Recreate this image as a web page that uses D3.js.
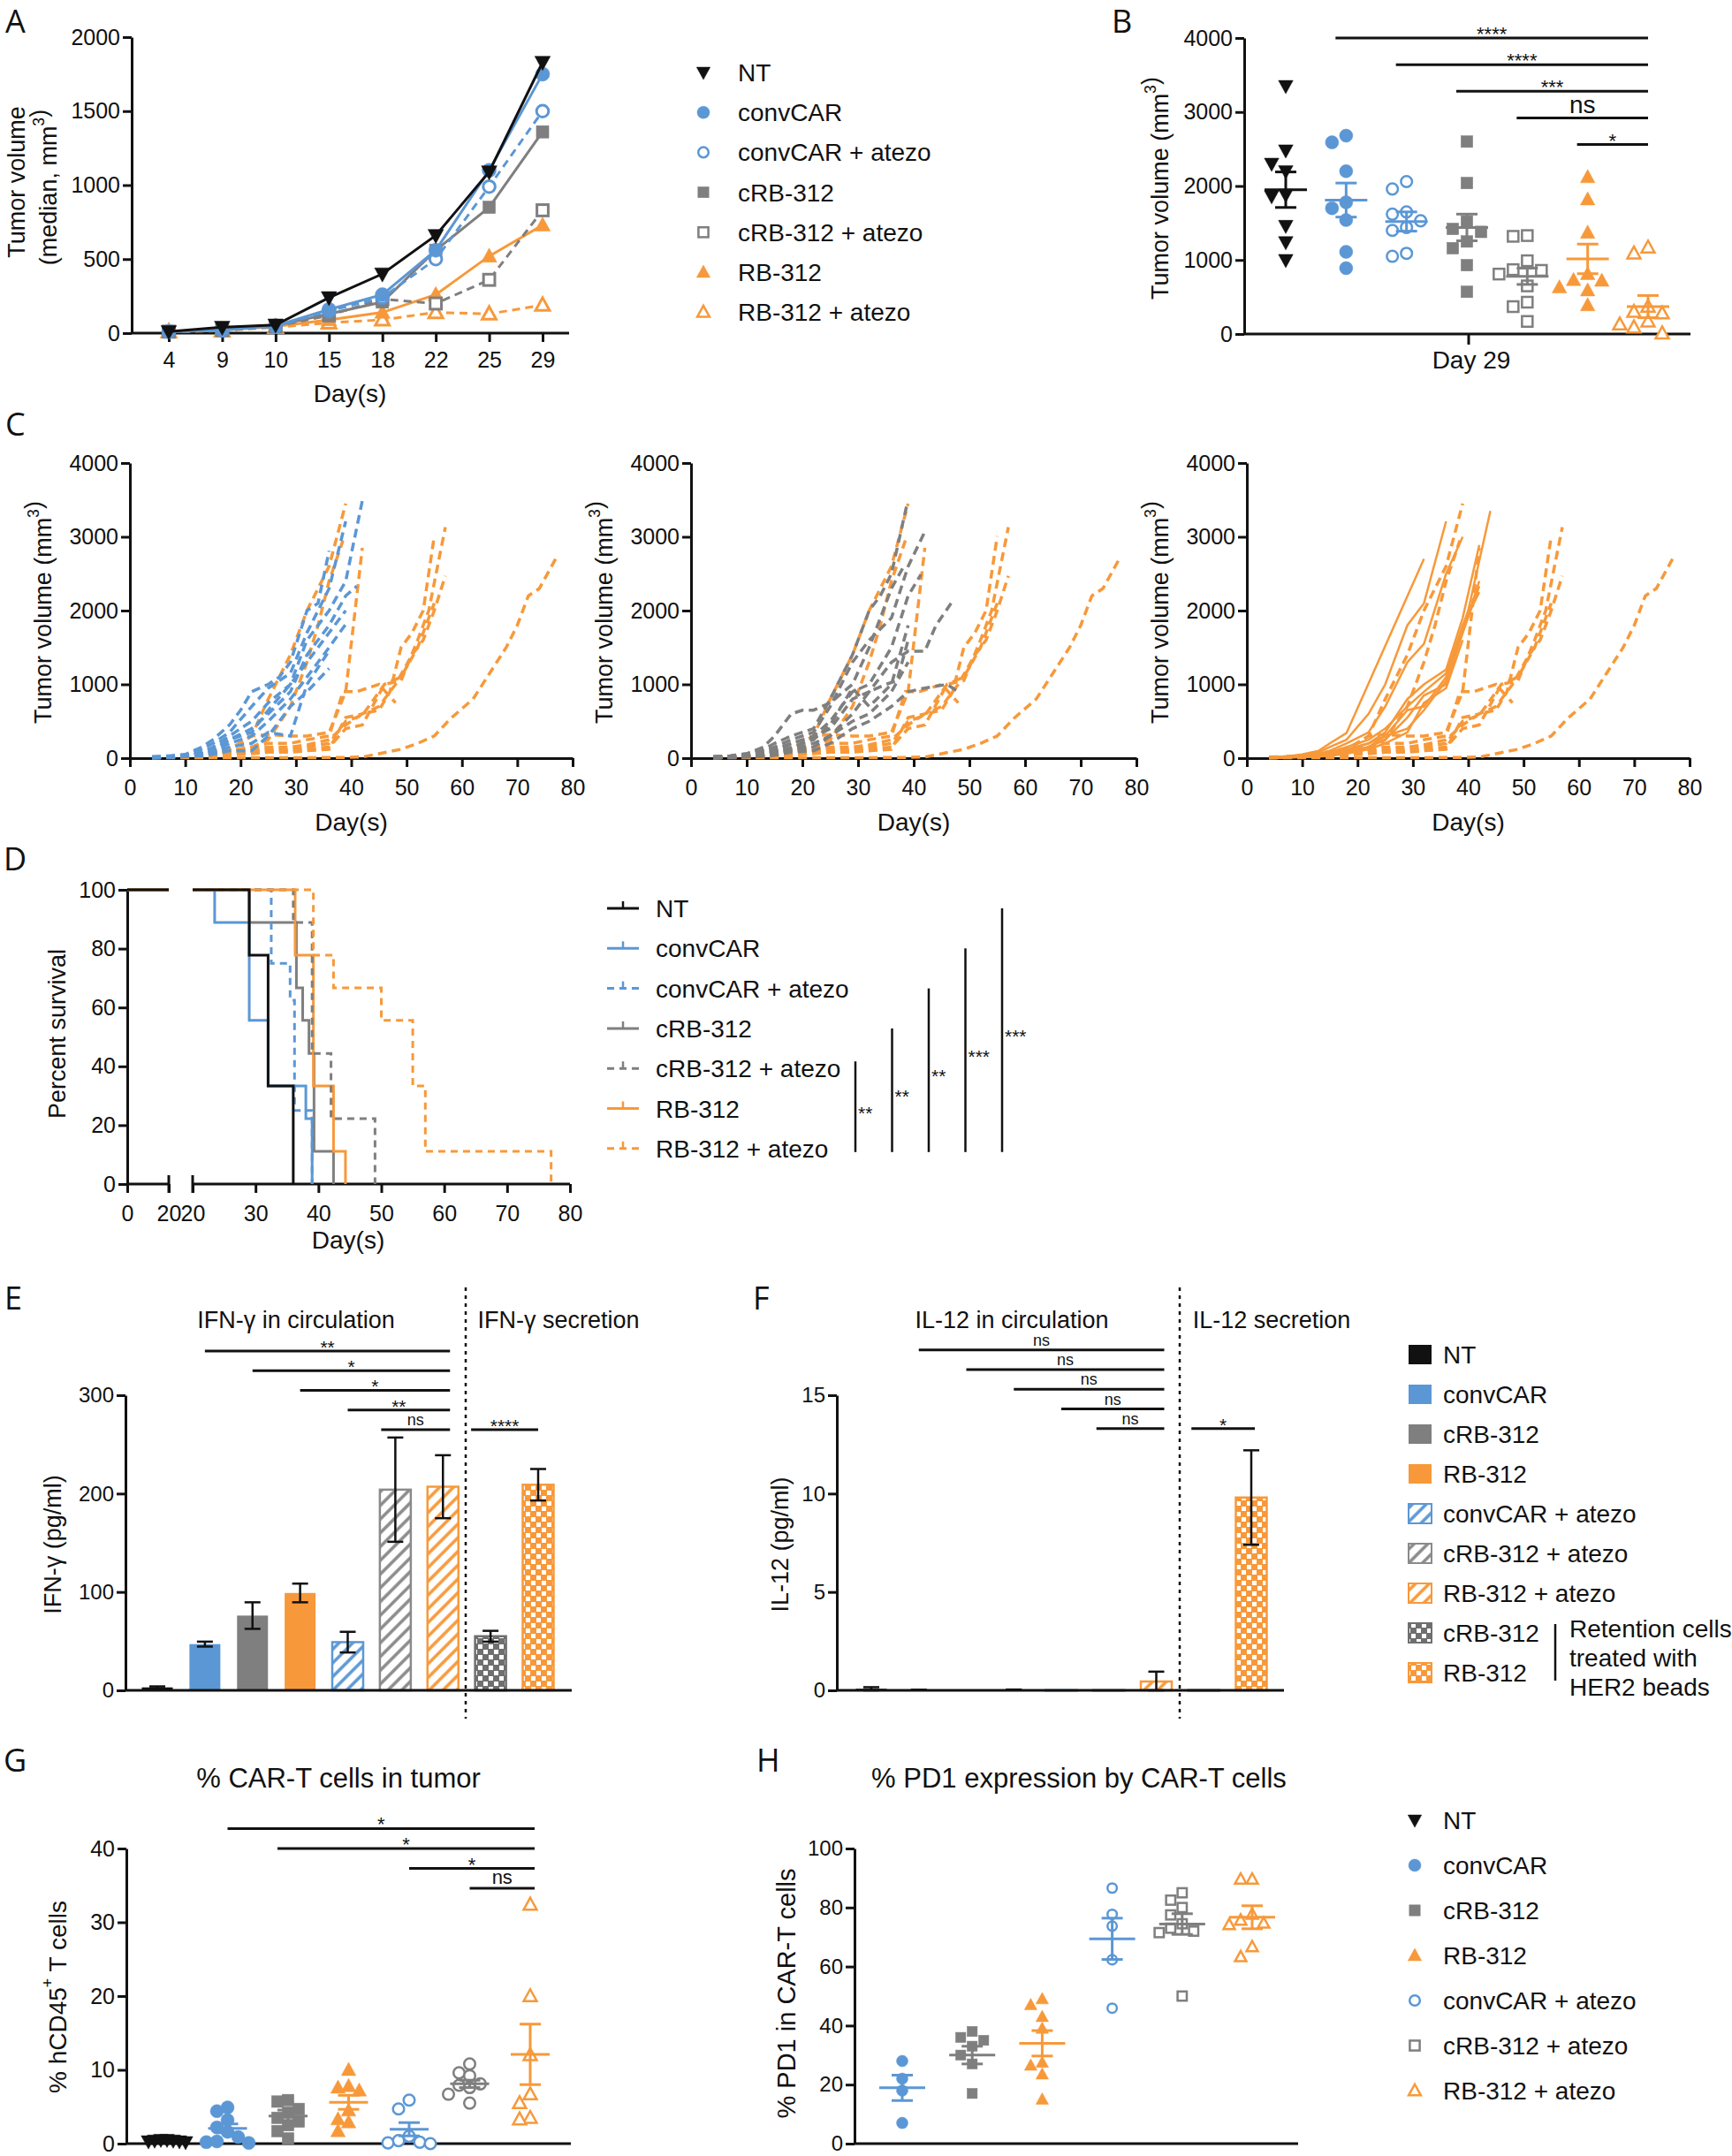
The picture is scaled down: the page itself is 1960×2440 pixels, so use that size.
<!DOCTYPE html>
<html><head><meta charset="utf-8">
<script src="https://cdn.jsdelivr.net/npm/d3@7"></script>
<style>body{margin:0;background:#fff} svg{display:block} text{font-family:"Liberation Sans",Arial,Helvetica,sans-serif;fill:#111}</style>
</head><body>
<svg id="fig" width="1960" height="2440"></svg>
<script>
// ================= DATA =================
// Panel A: median tumor volume
const aDays = ["4","9","10","15","18","22","25","29"];
const aNT = [10,40,55,240,400,660,1090,1830];
const aConv = [10,20,50,160,260,560,1100,1750];
const aConvAtezo = [10,20,45,150,240,500,990,1500];
const aCrb = [10,25,50,130,210,560,850,1360];
const aCrbAtezo = [10,20,45,120,230,200,360,830];
const aRb = [10,20,45,90,140,260,520,730];
const aRbAtezo = [10,15,40,70,90,140,130,190];
const groupNames = ["NT","convCAR","convCAR + atezo","cRB-312","cRB-312 + atezo","RB-312","RB-312 + atezo"];

// Panel B: day 29 individual volumes
const bNT = [3350,2480,2300,2200,1880,1860,1460,1240,1000];
const bConv = [2680,2590,2200,1780,1700,1540,1110,890];
const bConvAtezo = [2060,1960,1650,1620,1530,1440,1400,1090,1050];
const bCrb = [2600,2040,1520,1420,1380,1250,1160,930,570];
const bCrbAtezo = [1330,1320,990,870,860,810,650,430,370,170];
const bRb = [2120,1820,1370,810,730,720,630,590,390];
const bRbAtezo = [1170,1090,370,300,280,170,130,90,10];
const bMean = [1950,1810,1520,1440,780,1015,370];
const bSem = [240,230,130,180,110,200,150];
const bSigFrom = ["convCAR","convCAR + atezo","cRB-312","cRB-312 + atezo","RB-312"];
const bSigLabels = ["****","****","***","ns","*"];

// Panel C: individual growth curves [day, volume]
const cConvAtezoMice = [
 [[4,20],[7,30],[10,50],[13,150],[15,250],[18,450],[20,650],[22,900],[25,1000],[27,1100],[29,1300],[32,2000],[34,2100],[36,2810]],
 [[4,15],[7,25],[10,40],[13,120],[15,200],[18,350],[22,700],[25,950],[29,1150],[32,1700],[36,2300],[39,3210]],
 [[4,10],[7,20],[10,30],[13,80],[15,150],[18,300],[22,500],[25,750],[29,1000],[32,1600],[34,1800],[36,2000],[39,2400],[42,3490]],
 [[4,10],[7,20],[10,30],[13,60],[15,100],[18,250],[22,400],[25,600],[29,900],[32,1400],[36,1800],[39,2200],[41,2330]],
 [[4,10],[7,15],[10,25],[13,50],[15,80],[18,200],[22,300],[25,500],[29,800],[32,1100],[36,1500],[39,1815]],
 [[4,10],[7,15],[10,20],[13,40],[15,60],[18,150],[22,200],[25,350],[29,300],[32,1000],[36,1455]],
 [[4,10],[7,10],[10,20],[13,30],[15,50],[18,100],[22,100],[25,300],[29,700],[32,900],[36,1216]],
 [[4,10],[7,15],[10,25],[13,60],[15,120],[18,250],[22,350],[25,650],[29,1000],[32,1300],[36,1700],[39,2000]]
];
const cCrbAtezoMice = [
 [[4,20],[7,30],[10,60],[13,120],[15,200],[18,300],[22,400],[25,800],[29,1400],[32,2000],[34,2200],[36,2500],[38.7,3410]],
 [[4,20],[7,30],[10,60],[13,150],[15,300],[18,600],[20,650],[22,650],[25,750],[29,1000],[32,1500],[36,2300],[38,2570]],
 [[4,15],[7,25],[10,50],[13,100],[15,150],[18,250],[22,350],[25,700],[29,1300],[32,1600],[36,1900],[39,2600],[42,3070]],
 [[4,15],[7,20],[10,40],[13,80],[15,120],[18,200],[22,300],[25,500],[29,900],[32,1000],[36,1500],[39,2200],[41.3,2490]],
 [[4,10],[7,20],[10,30],[13,60],[15,100],[18,200],[22,280],[25,400],[29,800],[32,900],[36,1300],[39,1450],[42,1450],[44,1800],[47,2130]],
 [[4,10],[7,15],[10,25],[13,50],[15,80],[18,150],[22,250],[25,450],[29,950],[32,700],[36,1000],[39,1800]],
 [[4,10],[7,15],[10,25],[13,40],[15,70],[18,120],[22,200],[25,300],[29,600],[32,900],[35,1000],[37,1050],[39,1600]],
 [[4,10],[7,10],[10,20],[13,30],[15,60],[18,100],[22,150],[25,300],[29,500],[32,600],[36,900],[39,1300]],
 [[4,5],[7,10],[10,15],[13,25],[15,40],[18,80],[22,100],[25,200],[29,400],[32,500],[36,700],[39,900],[42,950],[46,1000],[48,900]]
];
const cRbMice = [
 [[4,10],[7,20],[10,50],[13,100],[15,200],[18,340],[32,2700]],
 [[4,10],[7,20],[10,40],[13,80],[15,150],[18,250],[22,600],[25,1000],[29,1800],[32,2100],[36,3210]],
 [[4,10],[7,15],[10,30],[13,60],[15,100],[18,200],[22,350],[25,700],[29,1300],[32,1550],[36,2500],[39,3000]],
 [[4,10],[7,15],[10,30],[13,50],[15,80],[18,150],[22,250],[25,400],[29,700],[32,900],[36,1150],[40,2000],[44,3350]],
 [[4,10],[7,15],[10,25],[13,40],[15,70],[18,120],[22,200],[25,350],[29,800],[32,1000],[36,1200],[39,1900],[42,2890]],
 [[4,10],[7,10],[10,20],[13,30],[15,60],[18,100],[22,200],[25,300],[29,650],[32,700],[36,1100],[39,1700],[42,2330]],
 [[4,5],[7,10],[10,20],[13,30],[15,50],[18,100],[22,150],[25,300],[29,400],[32,650],[36,1050],[39,1800],[42,2250]],
 [[4,5],[7,10],[10,15],[13,25],[15,40],[18,80],[22,150],[25,250],[29,550],[32,850],[36,1000],[39,1700],[42,2400]],
 [[4,5],[7,10],[10,15],[13,20],[15,30],[18,60],[22,120],[25,200],[29,350],[32,750],[36,950],[39,1600]]
];
const cRbAtezoMice = [
 [[4,15],[7,20],[10,40],[13,60],[15,90],[18,130],[20,200],[22,300],[25,800],[29,1400],[32,2000],[36,2600],[39,3450]],
 [[4,10],[7,15],[10,30],[13,50],[15,70],[18,100],[22,150],[25,250],[29,700],[32,1300],[34,1800],[36,2400],[38.5,2950]],
 [[4,10],[7,15],[10,25],[13,40],[15,60],[18,120],[22,300],[25,320],[29,300],[32,300],[36,350],[39,900],[42,2850]],
 [[4,10],[7,15],[10,20],[13,35],[15,50],[18,100],[22,150],[25,200],[29,200],[32,250],[36,300],[38.5,900],[41,900],[45,1000],[48,750]],
 [[4,10],[7,10],[10,20],[13,30],[15,40],[18,80],[22,120],[25,150],[29,150],[32,180],[36,250],[39,450],[42,600],[45,650],[47,900],[49,1500],[51,1700],[53,2000],[55,3010]],
 [[4,5],[7,10],[10,15],[13,25],[15,30],[18,60],[22,100],[25,120],[29,120],[32,150],[36,200],[39,500],[42,580],[46,1000],[49,1100],[52,1500],[55,2100]],
 [[4,5],[7,10],[10,15],[13,20],[15,30],[18,50],[22,80],[25,100],[29,100],[32,120],[36,150],[39,400],[42,450],[46,1000],[49,1050],[52,1600],[54,2000],[57,3130]],
 [[4,5],[7,8],[10,10],[13,15],[15,20],[18,40],[22,60],[25,80],[29,80],[32,100],[36,120],[39,550],[42,600],[45,700],[48,1000],[51,1400],[53,1600],[55,2000],[57,2470]],
 [[4,5],[7,5],[10,5],[13,5],[15,5],[18,5],[22,5],[25,5],[29,5],[32,5],[36,10],[39,10],[42,15],[45,60],[49,120],[52,200],[55,300],[58,540],[62,800],[65,1150],[68,1500],[70,1800],[72,2200],[74,2300],[77,2710]]
];

// Panel D: survival [day, percent]
const dNT = [[0,100],[29,77.8],[32,33.3],[36,0]];
const dConv = [[0,100],[23.5,88.9],[29,55.6],[32,33.3],[38,22.2],[39,0]];
const dConvAtezo = [[0,100],[32.5,75],[35.5,62.5],[36.2,25],[39,0]];
const dCrb = [[0,100],[29,88.9],[36.5,66.7],[37.5,55.6],[38.5,44.4],[39.3,11.1],[42.4,0]];
const dCrbAtezo = [[0,100],[36,88.9],[39,44.4],[42,22.2],[49,0]];
const dRb = [[0,100],[36.3,77.8],[39.2,33.3],[42.4,11.1],[44.3,0]];
const dRbAtezo = [[0,100],[39.2,77.8],[42.4,66.7],[50,55.6],[55,33.3],[57,11.1],[77,0]];
const dSigLabels = ["**","**","**","***","***"];

// Panel E / F: cytokines
const eCats = ["NT","convCAR","cRB-312","RB-312","convCAR + atezo","cRB-312 + atezo","RB-312 + atezo","cRB-312 beads","RB-312 beads"];
const eMean = [3,47,76,99,49,204,207,55,209];
const eSem = [1,2.5,13.5,9.5,10.5,53,32,5.5,16];
const eSigFrom = ["convCAR","cRB-312","RB-312","convCAR + atezo","cRB-312 + atezo"];
const eSigLabels = ["**","*","*","**","ns"];
const eBeadSig = "****";
const fMean = [0.08,0.02,0.01,0.03,0.01,0.01,0.45,0.01,9.8];
const fSem = [0.08,0.01,0,0.01,0,0,0.5,0,2.4];
const fSigLabels = ["ns","ns","ns","ns","ns"];
const fBeadSig = "*";
const efLegend = ["NT","convCAR","cRB-312","RB-312","convCAR + atezo","cRB-312 + atezo","RB-312 + atezo","cRB-312","RB-312"];
const retentionNote = ["Retention cells","treated with","HER2 beads"];

// Panel G: % CAR-T in tumor
const gCats = ["NT","convCAR","cRB-312","RB-312","convCAR + atezo","cRB-312 + atezo","RB-312 + atezo"];
const gNT = [0.5,0.4,0.3,0.4,0.3,0.5,0.2];
const gConv = [4.9,4.4,3.2,2.2,1.6,0.9,0.3,0.2,0.1];
const gCrb = [5.9,5.7,4.7,4.2,3.5,3.0,2.5,1.7,0.7];
const gRb = [10.0,7.8,7.6,7.2,4.5,3.3,2.9,1.7];
const gConvAtezo = [5.9,4.7,1.0,0.4,0.2,0.1,0.0];
const gCrbAtezo = [10.8,9.6,9.2,8.1,7.9,7.6,6.7,5.5];
const gRbAtezo = [32.4,20.0,12.0,6.7,5.5,3.5,3.3];
const gMean = [0.37,2.07,3.75,5.6,1.95,8.1,12.1];
const gSem = [0.05,0.6,0.8,0.95,0.9,0.5,4.1];
const gSigFrom = ["convCAR","cRB-312","convCAR + atezo","cRB-312 + atezo"];
const gSigLabels = ["*","*","*","ns"];

// Panel H: % PD1
const hCats = ["convCAR","cRB-312","RB-312","convCAR + atezo","cRB-312 + atezo","RB-312 + atezo"];
const hConv = [28,22,18,7];
const hCrb = [38,36,35,33,30,27,17];
const hRb = [49,47,43,39,27.5,26.5,23.5,15];
const hConvAtezo = [86.6,77.7,73.7,62.3,45.9];
const hCrbAtezo = [85,82.5,80,77.5,74.5,73,72,71.5,50];
const hRbAtezo = [89.6,89.6,77.7,75.7,74.7,74.2,66.7,63.3];
const hMean = [18.9,30,34,69.4,74.4,76.7];
const hSem = [4.3,3,4.3,7,3.5,3.9];
const hLegend = ["NT","convCAR","cRB-312","RB-312","convCAR + atezo","cRB-312 + atezo","RB-312 + atezo"];

// ================= STYLE / HELPERS =================
const BLUE='#5b97d5', GRAY='#7f7f7f', ORANGE='#f7993a', BLACK='#111111';
const SER = {
 'NT':{c:BLACK,s:'tridown',o:false,d:false},
 'convCAR':{c:BLUE,s:'circle',o:false,d:false},
 'convCAR + atezo':{c:BLUE,s:'circle',o:true,d:true},
 'cRB-312':{c:GRAY,s:'square',o:false,d:false},
 'cRB-312 + atezo':{c:GRAY,s:'square',o:true,d:true},
 'RB-312':{c:ORANGE,s:'tri',o:false,d:false},
 'RB-312 + atezo':{c:ORANGE,s:'tri',o:true,d:true}
};
const fmt = d3.format('d');
const svg = d3.select('#fig');
svg.append('rect').attr('width',1960).attr('height',2440).attr('fill','#fff');
const defs = svg.append('defs');
function hatch(id,color){
  const p=defs.append('pattern').attr('id',id).attr('patternUnits','userSpaceOnUse').attr('width',11).attr('height',11).attr('patternTransform','rotate(45)');
  p.append('rect').attr('width',11).attr('height',11).attr('fill','#fff');
  p.append('line').attr('x1',2).attr('y1',0).attr('x2',2).attr('y2',11).attr('stroke',color).attr('stroke-width',3.5);
}
function checker(id,color){
  const p=defs.append('pattern').attr('id',id).attr('patternUnits','userSpaceOnUse').attr('width',12).attr('height',12);
  p.append('rect').attr('width',12).attr('height',12).attr('fill',color);
  p.append('rect').attr('x',1).attr('y',1).attr('width',5).attr('height',5).attr('fill','#fff');
  p.append('rect').attr('x',7).attr('y',7).attr('width',5).attr('height',5).attr('fill','#fff');
}
hatch('hb',BLUE); hatch('hg','#8a8a8a'); hatch('ho',ORANGE);
checker('cg','#6f6f6f'); checker('co',ORANGE);

function mk(g, shape, x, y, r, color, open, sw){
  sw = sw||2.5; let el;
  if(shape==='circle') el=g.append('circle').attr('cx',x).attr('cy',y).attr('r',open? r-1.2 : r);
  else if(shape==='square'){ const h=open? r*0.8 : r*0.88; el=g.append('rect').attr('x',x-h).attr('y',y-h).attr('width',2*h).attr('height',2*h); }
  else { const dr = shape==='tri'? 1 : -1; const k=open?0.9:1;
    el=g.append('path').attr('d',`M${x},${y-dr*r*1.15*k}L${x+r*1.1*k},${y+dr*r*0.85*k}L${x-r*1.1*k},${y+dr*r*0.85*k}Z`); }
  el.attr('fill', open? '#fff':color).attr('stroke',color).attr('stroke-width', open? sw : 0.5).attr('stroke-linejoin','miter');
  return el;
}
function styleAxis(g, fs){
  g.attr('font-family','"Liberation Sans",Arial,sans-serif');
  g.selectAll('path.domain').attr('stroke','#111').attr('stroke-width',3);
  g.selectAll('.tick line').attr('stroke','#111').attr('stroke-width',3);
  g.selectAll('.tick text').attr('font-size',fs);
}
function yAxis(x, scale, ticks, fs){
  const g=svg.append('g').attr('transform',`translate(${x},0)`).call(d3.axisLeft(scale).tickValues(ticks).tickFormat(fmt).tickSize(10).tickPadding(3).tickSizeOuter(0));
  styleAxis(g, fs||25); return g;
}
function hLine(x1,x2,y,w){ svg.append('line').attr('x1',x1).attr('x2',x2).attr('y1',y).attr('y2',y).attr('stroke','#111').attr('stroke-width',w||3); }
function txt(x,y,s,fs,anchor){ return svg.append('text').attr('x',x).attr('y',y).attr('font-size',fs).attr('text-anchor',anchor||'start').text(s); }
function letter(x,y,s){ svg.append('text').attr('x',x).attr('y',y).attr('font-size',36).style('font-family','"Open Sans",sans-serif').text(s); }
function rotLabel(x,y,parts,fs){
  const t=svg.append('text').attr('transform',`translate(${x},${y}) rotate(-90)`).attr('text-anchor','middle').attr('dominant-baseline','central').attr('font-size',fs);
  parts.forEach(p=>{
    if(p.sup){ t.append('tspan').attr('dy',-fs*0.4).attr('font-size',fs*0.65).text(p.t); t.append('tspan').attr('dy',fs*0.4).text(''); }
    else t.append('tspan').text(p.t);
  });
  return t;
}
function swarm(vals, ys, s, sx){
  const order = vals.map((v,i)=>i).sort((a,b)=>vals[b]-vals[a]);
  const placed=[]; const off=Array(vals.length).fill(0);
  for(const i of order){
    const y=ys(vals[i]);
    for(let k=0;k<60;k++){
      const m = Math.ceil(k/2)*(k%2? -1:1)*0.5*sx;
      if(!placed.some(p=>Math.abs(p.x-m)<sx*0.999 && Math.abs(p.y-y)<s*0.999)){ off[i]=m; placed.push({x:m,y}); break; }
    }
  }
  return off;
}
function scatterGroup(cx, vals, yS, st, r, s, sx, mean, sem, halfMean, halfCap){
  const g=svg.append('g');
  const off=swarm(vals,yS,s,sx);
  vals.forEach((v,i)=>mk(g, st.s, cx+off[i], yS(v), r, st.c, st.o));
  const ym=yS(mean), yt=yS(mean+sem), yb=yS(Math.max(0,mean-sem));
  const L=(x1,y1,x2,y2)=>g.append('line').attr('x1',x1).attr('y1',y1).attr('x2',x2).attr('y2',y2).attr('stroke',st.c).attr('stroke-width',3);
  L(cx-halfMean,ym,cx+halfMean,ym); L(cx,yt,cx,yb); L(cx-halfCap,yt,cx+halfCap,yt); L(cx-halfCap,yb,cx+halfCap,yb);
}
function sig(x1,x2,y,label,fs){
  hLine(x1,x2,y,3);
  const isNs = label==='ns';
  txt((x1+x2)/2, isNs? y-5 : y+3, label, fs||22, 'middle');
}

// ================= PANEL A =================
letter(6,37,'A');
const aX = d3.scalePoint().domain(aDays).range([191,614]);
const aY = d3.scaleLinear().domain([0,2000]).range([377,42]);
yAxis(149, aY, [0,500,1000,1500,2000]);
hLine(149,644,377,3);
{ const g=svg.append('g').attr('transform','translate(0,377)').call(d3.axisBottom(aX).tickSize(10).tickPadding(11)); g.select('.domain').remove(); styleAxis(g,25); }
txt(396,455,'Day(s)',28,'middle');
rotLabel(19,206,[{t:'Tumor volume'}],27);
rotLabel(55,212,[{t:'(median, mm'},{t:'3',sup:true},{t:')'}],27);
const aSeries = [["RB-312 + atezo",aRbAtezo],["RB-312",aRb],["cRB-312 + atezo",aCrbAtezo],["cRB-312",aCrb],["convCAR + atezo",aConvAtezo],["convCAR",aConv],["NT",aNT]];
aSeries.forEach(([name,vals])=>{
  const st=SER[name];
  const line=d3.line().x((d,i)=>aX(aDays[i])).y(d=>aY(d));
  svg.append('path').attr('d',line(vals)).attr('fill','none').attr('stroke',st.c).attr('stroke-width',3).attr('stroke-dasharray',st.d?'9,6':null);
  const g=svg.append('g');
  vals.forEach((v,i)=>mk(g,st.s,aX(aDays[i]),aY(v),8,st.c,st.o,3));
});
groupNames.forEach((n,i)=>{
  const st=SER[n]; const y=82+i*45.2;
  mk(svg,st.s,796,y,7,st.c,st.o,2.5);
  txt(835,y+10,n,28);
});

// ================= PANEL B =================
letter(1258,37,'B');
const bY = d3.scaleLinear().domain([0,4000]).range([378,43]);
const bX = d3.scalePoint().domain(groupNames).range([1455,1865]);
yAxis(1408,bY,[0,1000,2000,3000,4000]);
hLine(1408,1913,378,3);
svg.append('line').attr('x1',1662).attr('x2',1662).attr('y1',378).attr('y2',390).attr('stroke','#111').attr('stroke-width',3);
txt(1665,417,'Day 29',28,'middle');
rotLabel(1313,213,[{t:'Tumor volume (mm'},{t:'3',sup:true},{t:')'}],27);
const bVals=[bNT,bConv,bConvAtezo,bCrb,bCrbAtezo,bRb,bRbAtezo];
groupNames.forEach((n,i)=>scatterGroup(bX(n),bVals[i],bY,SER[n],7.5,16,16,bMean[i],bSem[i],24,12));
bSigFrom.forEach((f,i)=>{
  const lvl = 4000 - i*(4000-2560)/4;
  sig(bX(f)-12, bX("RB-312 + atezo"), bY(lvl), bSigLabels[i], bSigLabels[i]==='ns'?28:22);
});

// ================= PANEL C =================
letter(6,493,'C');
function panelC(x0,x1,sets){
  const xS=d3.scaleLinear().domain([0,80]).range([x0,x1]);
  const yS=d3.scaleLinear().domain([0,4000]).range([858,524]);
  yAxis(x0,yS,[0,1000,2000,3000,4000]);
  const g=svg.append('g').attr('transform','translate(0,858)').call(d3.axisBottom(xS).tickValues(d3.range(0,81,10)).tickFormat(fmt).tickSize(10).tickPadding(14).tickSizeOuter(0));
  styleAxis(g,25);
  txt((x0+x1)/2,940,'Day(s)',28,'middle');
  rotLabel(x0-98,693,[{t:'Tumor volume (mm'},{t:'3',sup:true},{t:')'}],27);
  const line=d3.line().x(d=>xS(d[0])).y(d=>yS(d[1]));
  sets.forEach(([mice,color,dashed])=>{
    mice.forEach(m=>svg.append('path').attr('d',line(m)).attr('fill','none').attr('stroke',color).attr('stroke-width',dashed?3.5:2.5).attr('stroke-dasharray',dashed?'10,6':null));
  });
}
panelC(147,648,[[cRbAtezoMice,ORANGE,true],[cConvAtezoMice,BLUE,true]]);
panelC(782,1286,[[cRbAtezoMice,ORANGE,true],[cCrbAtezoMice,GRAY,true]]);
panelC(1411,1912,[[cRbAtezoMice,ORANGE,true],[cRbMice,ORANGE,false]]);

// ================= PANEL D =================
letter(4,985,'D');
const dY=d3.scaleLinear().domain([0,100]).range([1340,1007]);
const dX1=d3.scaleLinear().domain([0,20]).range([144,191]);
const dX2=d3.scaleLinear().domain([20,80]).range([218,645]);
yAxis(144,dY,[0,20,40,60,80,100]);
hLine(144,191,1340,3); hLine(218,645,1340,3);
{ const g1=svg.append('g').attr('transform','translate(0,1340)').call(d3.axisBottom(dX1).tickValues([0,20]).tickFormat(fmt).tickSize(10).tickPadding(14)); g1.select('.domain').remove(); styleAxis(g1,25);
  const g2=svg.append('g').attr('transform','translate(0,1340)').call(d3.axisBottom(dX2).tickValues(d3.range(20,81,10)).tickFormat(fmt).tickSize(10).tickPadding(14)); g2.select('.domain').remove(); styleAxis(g2,25);
  [191,218].forEach(x=>svg.append('line').attr('x1',x).attr('x2',x).attr('y1',1330).attr('y2',1350).attr('stroke','#111').attr('stroke-width',3)); }
txt(394,1413,'Day(s)',28,'middle');
rotLabel(65,1170,[{t:'Percent survival'}],27);
const dSeries={"NT":dNT,"convCAR":dConv,"convCAR + atezo":dConvAtezo,"cRB-312":dCrb,"cRB-312 + atezo":dCrbAtezo,"RB-312":dRb,"RB-312 + atezo":dRbAtezo};
const dOrder=["convCAR","cRB-312","RB-312","convCAR + atezo","cRB-312 + atezo","RB-312 + atezo","NT"];
dOrder.forEach(n=>{
  const st=SER[n]; const pts=dSeries[n];
  const at20 = pts.filter(p=>p[0]<=20).slice(-1)[0][1];
  svg.append('path').attr('d',d3.line().x(d=>dX1(d[0])).y(d=>dY(d[1]))([[0,pts[0][1]],[20,at20]])).attr('fill','none').attr('stroke',st.c).attr('stroke-width',3);
  const seg=[[20,at20]].concat(pts.filter(p=>p[0]>20));
  svg.append('path').attr('d',d3.line().curve(d3.curveStepAfter).x(d=>dX2(d[0])).y(d=>dY(d[1]))(seg)).attr('fill','none').attr('stroke',st.c).attr('stroke-width',3).attr('stroke-dasharray',st.d?'8,6':null);
});
const dRows = groupNames.map((n,i)=>1028+i*45.3);
groupNames.forEach((n,i)=>{
  const st=SER[n]; const y=dRows[i];
  svg.append('line').attr('x1',687).attr('x2',723).attr('y1',y).attr('y2',y).attr('stroke',st.c).attr('stroke-width',3).attr('stroke-dasharray',st.d?'8,6':null);
  svg.append('line').attr('x1',705).attr('x2',705).attr('y1',y-8).attr('y2',y).attr('stroke',st.c).attr('stroke-width',2.5);
  txt(742,y+10,n,28);
});
dSigLabels.forEach((lab,i)=>{
  const x=968+i*41.5, top=dRows[5-1-i]-(i===0?8:0), bot=dRows[6]+4;
  svg.append('line').attr('x1',x).attr('x2',x).attr('y1',top).attr('y2',bot).attr('stroke','#111').attr('stroke-width',2.5);
  txt(x+3,(top+bot)/2+14,lab,21);
});

// ================= PANEL E =================
function barPanel(x0, xEnd, x0c, x1c, yS, means, sems, divX, ticks){
  const xS=d3.scalePoint().domain(eCats).range([x0c,x1c]);
  const fills=[BLACK,BLUE,GRAY,ORANGE,'url(#hb)','url(#hg)','url(#ho)','url(#cg)','url(#co)'];
  const strokes=[BLACK,BLUE,GRAY,ORANGE,BLUE,'#8a8a8a',ORANGE,'#6f6f6f',ORANGE];
  eCats.forEach((c,i)=>{
    const x=xS(c)-17.5, y=yS(means[i]), h=yS(0)-yS(means[i]);
    svg.append('rect').attr('x',x).attr('y',y).attr('width',35).attr('height',Math.max(h,0.5)).attr('fill',fills[i]).attr('stroke',strokes[i]).attr('stroke-width',i>=4?2.5:0);
    if(sems[i]>0){
      const yt=yS(means[i]+sems[i]), yb=yS(Math.max(0,means[i]-sems[i])), cx=xS(c);
      const L=(a,b,c2,d)=>svg.append('line').attr('x1',a).attr('y1',b).attr('x2',c2).attr('y2',d).attr('stroke','#111').attr('stroke-width',2.5);
      L(cx,yt,cx,yb); L(cx-9,yt,cx+9,yt); L(cx-9,yb,cx+9,yb);
    }
  });
  yAxis(x0,yS,ticks,24);
  hLine(x0,xEnd,yS(0),3);
  svg.append('line').attr('x1',divX).attr('x2',divX).attr('y1',1457).attr('y2',1945).attr('stroke','#111').attr('stroke-width',2.5).attr('stroke-dasharray','4,5');
  return xS;
}
letter(5,1482,'E');
const eY=d3.scaleLinear().domain([0,300]).range([1913,1579]);
const eX=barPanel(142,647,178,609,eY,eMean,eSem,527,[0,100,200,300]);
txt(335,1503,'IFN-γ in circulation',27,'middle');
txt(632,1503,'IFN-γ secretion',27,'middle');
rotLabel(60,1748,[{t:'IFN-γ  (pg/ml)'}],27);
eSigFrom.forEach((f,i)=>{
  const x1 = i===4? eX(f)-16 : eX(f);
  sig(x1, eX("RB-312 + atezo")+8, eY(345-20*i), eSigLabels[i], eSigLabels[i]==='ns'?18:21);
});
sig(eX("cRB-312 beads")-22, eX("RB-312 beads"), eY(265), eBeadSig, 21);

letter(852,1482,'F');
const fY=d3.scaleLinear().domain([0,15]).range([1913,1579]);
const fX=barPanel(947,1453,986,1416,fY,fMean,fSem,1335,[0,5,10,15]);
txt(1145,1503,'IL-12 in circulation',27,'middle');
txt(1439,1503,'IL-12 secretion',27,'middle');
rotLabel(883,1748,[{t:'IL-12  (pg/ml)'}],27);
eSigFrom.forEach((f,i)=>{
  const x1 = i===4? fX(f)-14 : fX(f);
  sig(x1, fX("RB-312 + atezo")+9, fY(17.3-1.0*i), fSigLabels[i], 18);
});
sig(fX("cRB-312 beads")-14, fX("RB-312 beads")+4, fY(13.3), fBeadSig, 21);
// E/F legend
{
  const fills=[BLACK,BLUE,GRAY,ORANGE,'url(#hb)','url(#hg)','url(#ho)','url(#cg)','url(#co)'];
  const strokes=[BLACK,BLUE,GRAY,ORANGE,BLUE,'#8a8a8a',ORANGE,'#6f6f6f',ORANGE];
  efLegend.forEach((n,i)=>{
    const y=1533+i*45;
    svg.append('rect').attr('x',1594).attr('y',y-11).attr('width',26).attr('height',22).attr('fill',fills[i]).attr('stroke',strokes[i]).attr('stroke-width',i>=4?2:0);
    txt(1633,y+10,n,28);
  });
  svg.append('line').attr('x1',1760).attr('x2',1760).attr('y1',1838).attr('y2',1902).attr('stroke','#111').attr('stroke-width',2.5);
  retentionNote.forEach((s,i)=>txt(1776,1853+i*33,s,28));
}

// ================= PANEL G =================
letter(4,2005,'G');
const gY=d3.scaleLinear().domain([0,40]).range([2426,2092]);
const gX=d3.scalePoint().domain(gCats).range([189,600]);
yAxis(143,gY,[0,10,20,30,40],25);
hLine(143,646,2426,3);
txt(383,2023,'% CAR-T cells in tumor',31,'middle');
{ const t=svg.append('text').attr('transform','translate(65,2260) rotate(-90)').attr('text-anchor','middle').attr('dominant-baseline','central').attr('font-size',28);
  t.append('tspan').text('% hCD45'); t.append('tspan').attr('dy',-11).attr('font-size',18).text('+'); t.append('tspan').attr('dy',11).text(' T cells'); }
const gVals=[gNT,gConv,gCrb,gRb,gConvAtezo,gCrbAtezo,gRbAtezo];
gCats.forEach((n,i)=>{
  const st=Object.assign({},SER[n]); if(n==='cRB-312 + atezo') st.s='circle';
  scatterGroup(gX(n),gVals[i],gY,st,7.5,13,(i===0?7:12),gMean[i],gSem[i],22,12);
});
gSigFrom.forEach((f,i)=>sig(gX(f)-(i===1?12:0), gX("RB-312 + atezo")+5, gY(42.7-2.7*i), gSigLabels[i], 22));

// ================= PANEL H =================
letter(856,2005,'H');
const hY=d3.scaleLinear().domain([0,100]).range([2426,2092]);
const hX=d3.scalePoint().domain(hCats).range([1021,1417]);
yAxis(967,hY,[0,20,40,60,80,100],24);
hLine(967,1469,2426,3);
txt(1221,2023,'% PD1 expression by CAR-T cells',31,'middle');
rotLabel(890,2256,[{t:'% PD1 in CAR-T cells'}],29);
const hVals=[hConv,hCrb,hRb,hConvAtezo,hCrbAtezo,hRbAtezo];
hCats.forEach((n,i)=>scatterGroup(hX(n),hVals[i],hY,SER[n],6.5,13,13,hMean[i],hSem[i],26,12));
hLegend.forEach((n,i)=>{
  const st=SER[n]; const y=2060+i*51;
  mk(svg,st.s,1601,y,7,st.c,st.o,2.5);
  txt(1633,y+10,n,28);
});
</script>
</body></html>
